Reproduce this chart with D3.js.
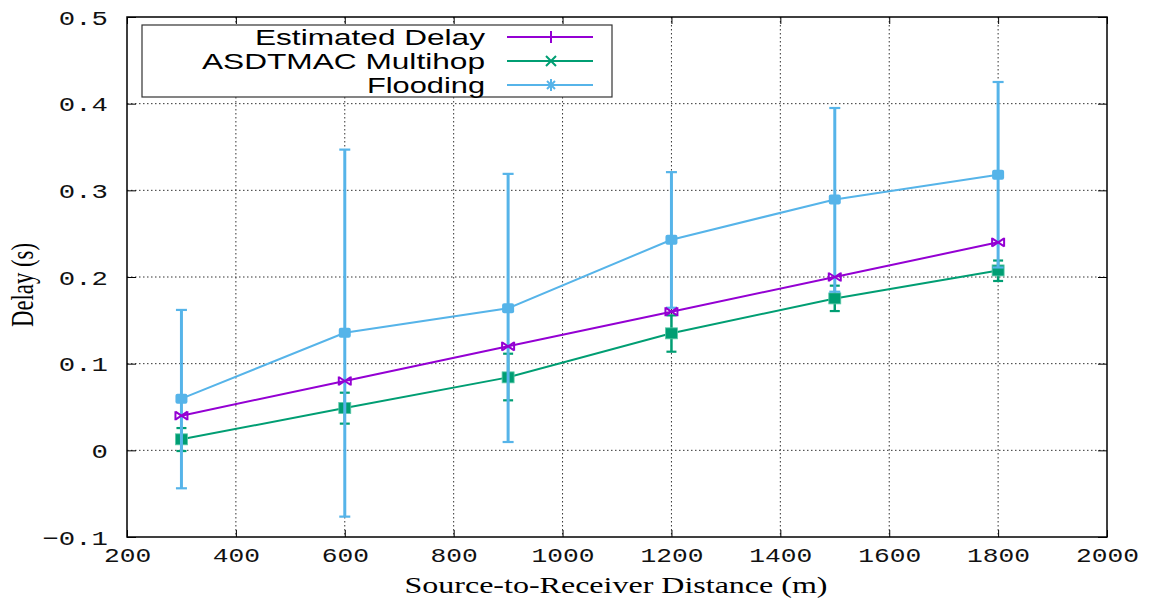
<!DOCTYPE html>
<html><head><meta charset="utf-8">
<script src="https://cdn.jsdelivr.net/npm/d3@7/dist/d3.min.js"></script>
<style>body{margin:0;background:#fff}svg{display:block}</style>
</head><body><svg id="c" width="1159" height="602"></svg>
<script>
const distances = [300, 600, 900, 1200, 1500, 1800];
const estimatedDelay = [0.04, 0.08, 0.12, 0.16, 0.20, 0.24];
const asdtmacDelay = [0.0127, 0.0488, 0.0842, 0.135, 0.1753, 0.2076];
const asdtmacLow  = [-0.0008, 0.0308, 0.0577, 0.1138, 0.1607, 0.1954];
const asdtmacHigh = [0.0257, 0.0665, 0.1115, 0.1557, 0.190, 0.219];
const floodingDelay = [0.0596, 0.1357, 0.164, 0.243, 0.2895, 0.318];
const floodingLow  = [-0.0438, -0.0765, 0.0096, 0.1645, 0.183, 0.211];
const floodingHigh = [0.162, 0.347, 0.319, 0.321, 0.395, 0.425];
const xTicks = [200, 400, 600, 800, 1000, 1200, 1400, 1600, 1800, 2000];
const yTicks = [-0.1, 0, 0.1, 0.2, 0.3, 0.4, 0.5];
const seriesNames = ["Estimated Delay", "ASDTMAC Multihop", "Flooding"];

const C = {est:"#9400d3", asd:"#009e73", fld:"#56b4e9"};
const L = 127, R = 1107, T = 17, B = 537;
const svg = d3.select("#c");
const x = d3.scaleLinear().domain([200, 2000]).range([L, R]);
const y = d3.scaleLinear().domain([-0.1, 0.5]).range([B, T]);

// grid
const grid = svg.append("g").attr("stroke", "#333").attr("stroke-width", 1).attr("stroke-dasharray", "1.5,2.5");
grid.selectAll("line.v").data(xTicks.filter(d => d > 200 && d < 2000)).join("line")
  .attr("x1", d => x(d)).attr("x2", d => x(d)).attr("y1", T).attr("y2", B);
grid.selectAll("line.h").data(yTicks.filter(d => d > -0.1 && d < 0.5)).join("line")
  .attr("y1", d => y(d)).attr("y2", d => y(d)).attr("x1", L).attr("x2", R);

// axes
const fmtY = d => Math.abs(d) < 1e-9 ? "0" : (d < 0 ? "\u2212" + Math.abs(d).toFixed(1) : d.toFixed(1));
const ax = svg.append("g").attr("transform", `translate(0,${B})`)
  .call(d3.axisBottom(x).tickValues(xTicks).tickSize(-7).tickFormat(d3.format("d")));
const ay = svg.append("g").attr("transform", `translate(${L},0)`)
  .call(d3.axisLeft(y).tickValues(yTicks).tickSize(-9).tickFormat(fmtY));
const axT = svg.append("g").attr("transform", `translate(0,${T})`)
  .call(d3.axisTop(x).tickValues(xTicks).tickSize(-7).tickFormat(""));
const ayR = svg.append("g").attr("transform", `translate(${R},0)`)
  .call(d3.axisRight(y).tickValues(yTicks).tickSize(-9).tickFormat(""));
[ax, ay, axT, ayR].forEach(g => { g.select(".domain").remove(); g.selectAll("line").attr("stroke", "#000").attr("stroke-width", 1); });
ax.selectAll("text").attr("font-family", "Liberation Mono, monospace").attr("font-size", 21)
  .attr("fill", "#111").attr("y", 0).attr("dy", 0)
  .attr("transform", "translate(0,25) scale(1.25,1)");
ay.selectAll("text").attr("font-family", "Liberation Mono, monospace").attr("font-size", 21)
  .attr("fill", "#111").attr("x", 0).attr("dy", 0)
  .attr("transform", "translate(-19,7) scale(1.3,1)");

// border
svg.append("rect").attr("x", L).attr("y", T).attr("width", R - L).attr("height", B - T)
  .attr("fill", "none").attr("stroke", "#000").attr("stroke-width", 1.5);

// axis titles
svg.append("text").attr("x", 616).attr("y", 593).attr("text-anchor", "middle")
  .attr("font-family", "Liberation Serif, serif").attr("font-size", 24)
  .attr("textLength", 423).attr("lengthAdjust", "spacingAndGlyphs")
  .text("Source-to-Receiver Distance (m)");
svg.append("text").attr("transform", "translate(33,285) rotate(-90) scale(1,1.3)")
  .attr("text-anchor", "middle").attr("font-family", "Liberation Serif, serif").attr("font-size", 24)
  .attr("textLength", 84).attr("lengthAdjust", "spacingAndGlyphs")
  .text("Delay (s)");

const plot = svg.append("g");
const line = d3.line().x(d => x(d[0])).y(d => y(d[1]));
function errorBars(color, low, high, w, capW) {
  const g = plot.append("g").attr("stroke", color);
  distances.forEach((d, i) => {
    g.append("line").attr("x1", x(d)).attr("x2", x(d)).attr("y1", y(low[i])).attr("y2", y(high[i])).attr("stroke-width", w);
    [low[i], high[i]].forEach(v => g.append("line").attr("x1", x(d) - capW / 2).attr("x2", x(d) + capW / 2)
      .attr("y1", y(v)).attr("y2", y(v)).attr("stroke-width", 2.2));
  });
}
// Estimated delay
plot.append("path").datum(distances.map((d, i) => [d, estimatedDelay[i]])).attr("d", line)
  .attr("fill", "none").attr("stroke", C.est).attr("stroke-width", 2);
// ASDTMAC
errorBars(C.asd, asdtmacLow, asdtmacHigh, 2.5, 10);
plot.append("path").datum(distances.map((d, i) => [d, asdtmacDelay[i]])).attr("d", line)
  .attr("fill", "none").attr("stroke", C.asd).attr("stroke-width", 2);
plot.append("g").selectAll("rect").data(distances).join("rect")
  .attr("x", d => x(d) - 6).attr("y", (d, i) => y(asdtmacDelay[i]) - 5.5).attr("width", 12).attr("height", 11)
  .attr("fill", C.asd).attr("stroke", "#5cc9a8").attr("stroke-width", 0.8);
// Flooding
errorBars(C.fld, floodingLow, floodingHigh, 3, 11);
plot.append("path").datum(distances.map((d, i) => [d, floodingDelay[i]])).attr("d", line)
  .attr("fill", "none").attr("stroke", C.fld).attr("stroke-width", 2);
plot.append("g").selectAll("rect").data(distances).join("rect")
  .attr("x", d => x(d) - 6).attr("y", (d, i) => y(floodingDelay[i]) - 5).attr("width", 12).attr("height", 10)
  .attr("rx", 2).attr("fill", C.fld);
// Estimated markers (bowtie)
plot.append("g").selectAll("path").data(distances).join("path")
  .attr("transform", (d, i) => `translate(${x(d)},${y(estimatedDelay[i])})`)
  .attr("d", "M-6,-4L6,4M-6,4L6,-4M-6,-4.5L-6,4.5M6,-4.5L6,4.5")
  .attr("fill", "none").attr("stroke", C.est).attr("stroke-width", 2);

// legend
const lg = svg.append("g");
lg.append("rect").attr("x", 142).attr("y", 25).attr("width", 470).attr("height", 72)
  .attr("fill", "#fff").attr("stroke", "#333").attr("stroke-width", 1.2);
const rowsY = [37, 61, 85];
const lens = [230, 283, 118];
const cols = [C.est, C.asd, C.fld];
const markers = ["M-6,0L6,0M0,-6L0,6", "M-5,-5L5,5M-5,5L5,-5", "M-6,0L6,0M-4,-4L4,4M-4,4L4,-4M0,-6L0,6"];
seriesNames.forEach((n, i) => {
  lg.append("text").attr("x", 485).attr("y", rowsY[i] + 8).attr("text-anchor", "end")
    .attr("font-family", "Liberation Sans, Arial, sans-serif").attr("font-size", 22)
    .attr("textLength", lens[i]).attr("lengthAdjust", "spacingAndGlyphs").text(n);
  lg.append("line").attr("x1", 507).attr("x2", 593).attr("y1", rowsY[i]).attr("y2", rowsY[i])
    .attr("stroke", cols[i]).attr("stroke-width", 2);
  lg.append("path").attr("transform", `translate(551,${rowsY[i]})`).attr("d", markers[i])
    .attr("stroke", cols[i]).attr("stroke-width", 2).attr("fill", "none");
});
</script></body></html>
